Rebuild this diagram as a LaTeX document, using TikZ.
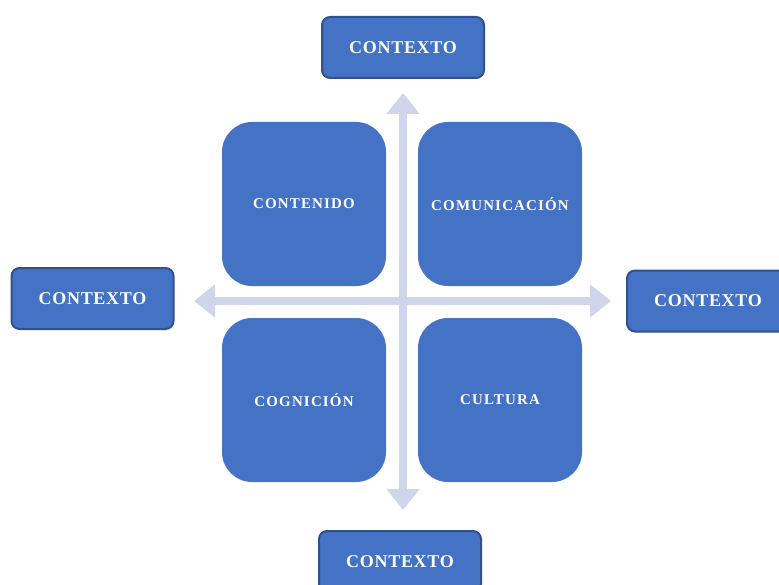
\documentclass[tikz,border=0pt]{standalone}
\usepackage{fontspec}
\setmainfont{Liberation Serif}
\newfontfamily\ctxfont[LetterSpace=4]{Liberation Serif}
\newfontfamily\quadfont[LetterSpace=8]{Liberation Serif}
\usetikzlibrary{arrows.meta}
\definecolor{boxfill}{HTML}{4472C4}
\definecolor{boxline}{HTML}{2F528F}
\definecolor{crosscol}{HTML}{CFD5EA}
\tikzset{
  ctx/.style={draw=boxline, line width=1.5pt, fill=boxfill, rounded corners=6pt,
    minimum width=121.5pt, minimum height=45.75pt, inner sep=0pt,
    text=white, font=\ctxfont\fontsize{13.5}{15}\selectfont\bfseries},
  quad/.style={fill=boxfill, rounded corners=22.5pt,
    minimum width=123pt, minimum height=123pt, inner sep=0pt,
    text=white, font=\quadfont\fontsize{11.2}{13}\selectfont\bfseries},
  crossarrow/.style={draw=crosscol, line width=6pt,
    {Triangle[length=15.75pt,width=24pt]}-{Triangle[length=15.75pt,width=24pt]}}
}
\begin{document}
\begin{tikzpicture}[x=0.75pt, y=-0.75pt]
\useasboundingbox (0,0) rectangle (779,585);
% cross
\coordinate (L) at (194,301);
\coordinate (R) at (611,301);
\coordinate (T) at (403,93);
\coordinate (B) at (403,510);
\draw[crossarrow] (L) -- (R);
\draw[crossarrow] (T) -- (B);
% quadrants
\node[quad] (q1) at (304,204) {CONTENIDO};
\node[quad] (q2) at (500,204) {COMUNICACIÓN};
\node[quad] (q3) at (304,400) {COGNICIÓN};
\node[quad] (q4) at (500,400) {CULTURA};
% context boxes
\node[ctx] (ct) at (403,47.5) {CONTEXTO};
\node[ctx] (cl) at (92.5,298.5) {CONTEXTO};
\node[ctx] (cr) at (708,301) {CONTEXTO};
\node[ctx] (cb) at (400,561.5) {CONTEXTO};
\end{tikzpicture}
\end{document}
